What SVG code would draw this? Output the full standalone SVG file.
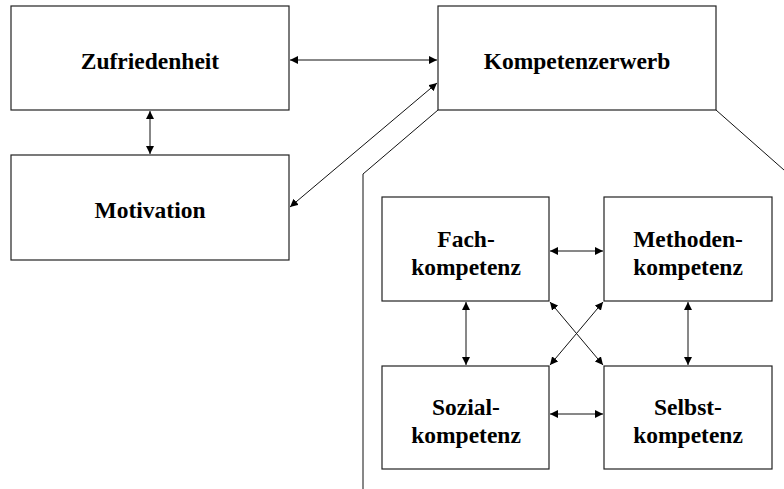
<svg xmlns="http://www.w3.org/2000/svg" width="784" height="489" viewBox="0 0 784 489">
<style>
.box{fill:#fff;stroke:#222;stroke-width:1.2}
.lbl{font-family:"Liberation Serif","Times New Roman",serif;font-weight:bold;font-size:23.5px;fill:#000;text-anchor:middle}
.con{stroke:#111;stroke-width:1;fill:none;marker-start:url(#a);marker-end:url(#a)}
.out{stroke:#111;stroke-width:1;fill:none}
</style>
<defs>
<marker id="a" viewBox="0 0 10 10" refX="10" refY="5" markerWidth="8" markerHeight="8" markerUnits="userSpaceOnUse" orient="auto-start-reverse">
<path d="M0,0 L10,5 L0,10 z" fill="#000"/>
</marker>
</defs>
<rect width="784" height="489" fill="#fff"/>
<g id="outline">
<polyline class="out" points="438,110 363,174 363,489"/>
<line class="out" x1="716" y1="110" x2="784" y2="170"/>
</g>
<g id="n-zufriedenheit"><rect class="box" x="11" y="6" width="278" height="104"/><text class="lbl" x="150" y="69">Zufriedenheit</text></g>
<g id="n-motivation"><rect class="box" x="11" y="155" width="278" height="105"/><text class="lbl" x="150" y="218">Motivation</text></g>
<g id="n-kompetenzerwerb"><rect class="box" x="438" y="6" width="278" height="104"/><text class="lbl" x="577" y="69">Kompetenzerwerb</text></g>
<g id="n-fach"><rect class="box" x="382" y="197" width="167" height="104"/><text class="lbl" x="466" y="247">Fach-</text><text class="lbl" x="466" y="274.5">kompetenz</text></g>
<g id="n-methoden"><rect class="box" x="604" y="197" width="168" height="104"/><text class="lbl" x="688" y="247">Methoden-</text><text class="lbl" x="688" y="274.5">kompetenz</text></g>
<g id="n-sozial"><rect class="box" x="382" y="366" width="167" height="103"/><text class="lbl" x="466" y="415">Sozial-</text><text class="lbl" x="466" y="442.5">kompetenz</text></g>
<g id="n-selbst"><rect class="box" x="604" y="366" width="168" height="103"/><text class="lbl" x="688" y="415">Selbst-</text><text class="lbl" x="688" y="442.5">kompetenz</text></g>
<g id="connectors">
<line class="con" x1="290" y1="60" x2="437" y2="60"/>
<line class="con" x1="150" y1="111" x2="150" y2="154"/>
<line class="con" x1="290" y1="207" x2="437" y2="83"/>
<line class="con" x1="550" y1="251" x2="603" y2="251"/>
<line class="con" x1="466" y1="302" x2="466" y2="365"/>
<line class="con" x1="688" y1="302" x2="688" y2="365"/>
<line class="con" x1="550" y1="414" x2="603" y2="414"/>
<line class="con" x1="550" y1="302" x2="603" y2="365"/>
<line class="con" x1="603" y1="302" x2="550" y2="365"/>
</g>
</svg>
